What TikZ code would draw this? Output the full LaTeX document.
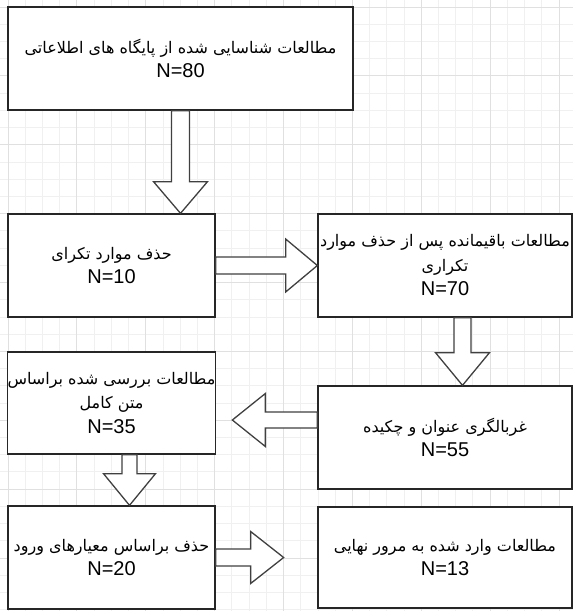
\documentclass[tikz,border=0pt]{standalone}
\usepackage{fontspec}
\setmainfont{Liberation Sans}
\newfontfamily\arabicfont[Script=Arabic]{DejaVu Sans}
\TeXXeTstate=1
\usetikzlibrary{calc}
\newcommand{\fa}[1]{{\arabicfont\fontsize{16}{24.5}\selectfont\beginR #1\endR}}
\begin{document}
\begin{tikzpicture}[x=1pt,y=-1pt,
  box/.style={draw=black!85, line width=1.3pt, fill=white, inner sep=0pt, align=center, font=\fontsize{20}{24.5}\selectfont},
  barrow/.style={draw=black!75, line width=1.3pt, fill=white, line join=miter},
  gminor/.style={draw=black!6, line width=0.9pt},
  gmajor/.style={draw=black!12, line width=0.9pt}]
\useasboundingbox (0,0) rectangle (573,611);
\fill[white] (0,0) rectangle (573,611);
\foreach \i in {-1,...,32} \draw[gminor] ({8+17.22*\i},0) -- ++(0,611);
\foreach \j in {-1,...,35} \draw[gminor] (0,{7+17.22*\j}) -- ++(573,0);
\foreach \i in {0,4,...,32} \draw[gmajor] ({8+17.22*\i},0) -- ++(0,611);
\foreach \j in {0,4,...,32} \draw[gmajor] (0,{7+17.22*\j}) -- ++(573,0);

\node[box, minimum width=345pt, minimum height=103pt] (b1) at (180.5,58.5) {\fa{مطالعات شناسایی شده از پایگاه های اطلاعاتی}\\N=80};
\node[box, minimum width=207pt, minimum height=103pt] (b2) at (111.5,265.5) {\fa{حذف موارد تکرای}\\N=10};
\node[box, minimum width=254pt, minimum height=103pt] (b3) at (445,265.5) {\fa{مطالعات باقیمانده پس از حذف موارد}\\\fa{تکراری}\\N=70};
\node[box, minimum width=207pt, minimum height=102pt] (b4) at (111.5,403) {\fa{مطالعات بررسی شده براساس}\\\fa{متن کامل}\\N=35};
\node[box, minimum width=254pt, minimum height=103pt] (b5) at (445,437.5) {\fa{غربالگری عنوان و چکیده}\\N=55};
\node[box, minimum width=207pt, minimum height=103pt] (b6) at (111.5,557.5) {\fa{حذف براساس معیارهای ورود}\\N=20};
\node[box, minimum width=254pt, minimum height=101pt] (b7) at (445,557.5) {\fa{مطالعات وارد شده به مرور نهایی}\\N=13};

% arrow b1 -> b2 (down)
\draw[barrow] ($(b1.south)+(-9,0)$) -- ($(b1.south)+(-9,71)$) -- ($(b1.south)+(-27,71)$) -- (b1.south |- b2.north) -- ($(b1.south)+(27,71)$) -- ($(b1.south)+(9,71)$) -- ($(b1.south)+(9,0)$) -- cycle;
% arrow b2 -> b3 (right)
\draw[barrow] ($(b2.east)+(0,-8.5)$) -- ($(b2.east)+(70,-8.5)$) -- ($(b2.east)+(70,-26.5)$) -- (b3.west) -- ($(b2.east)+(70,26.5)$) -- ($(b2.east)+(70,8.5)$) -- ($(b2.east)+(0,8.5)$) -- cycle;
% arrow b3 -> b5 (down)
\coordinate (a3) at ($(b3.south)+(17.5,0)$);
\draw[barrow] ($(a3)+(-8.5,0)$) -- ($(a3)+(-8.5,35)$) -- ($(a3)+(-27,35)$) -- (a3 |- b5.north) -- ($(a3)+(27,35)$) -- ($(a3)+(8.5,35)$) -- ($(a3)+(8.5,0)$) -- cycle;
% arrow b5 -> b4 (left)
\coordinate (a4) at ($(b5.west)+(0,-17.5)$);
\coordinate (a4tip) at ($(b5.west)+(-85,-17.5)$);
\draw[barrow] ($(a4)+(0,-8)$) -- ($(a4)+(-52,-8)$) -- ($(a4)+(-52,-26.5)$) -- (a4tip) -- ($(a4)+(-52,26.5)$) -- ($(a4)+(-52,8)$) -- ($(a4)+(0,8)$) -- cycle;
% arrow b4 -> b6 (down)
\coordinate (a5) at ($(b4.south)+(18,0)$);
\draw[barrow] ($(a5)+(-7.5,0)$) -- ($(a5)+(-7.5,19)$) -- ($(a5)+(-26,19)$) -- (a5 |- b6.north) -- ($(a5)+(26,19)$) -- ($(a5)+(7.5,19)$) -- ($(a5)+(7.5,0)$) -- cycle;
% arrow b6 -> (right)
\coordinate (a6tip) at ($(b6.east)+(68,0)$);
\draw[barrow] ($(b6.east)+(0,-8.5)$) -- ($(b6.east)+(35,-8.5)$) -- ($(b6.east)+(35,-26)$) -- (a6tip) -- ($(b6.east)+(35,26)$) -- ($(b6.east)+(35,8.5)$) -- ($(b6.east)+(0,8.5)$) -- cycle;
\end{tikzpicture}
\end{document}
